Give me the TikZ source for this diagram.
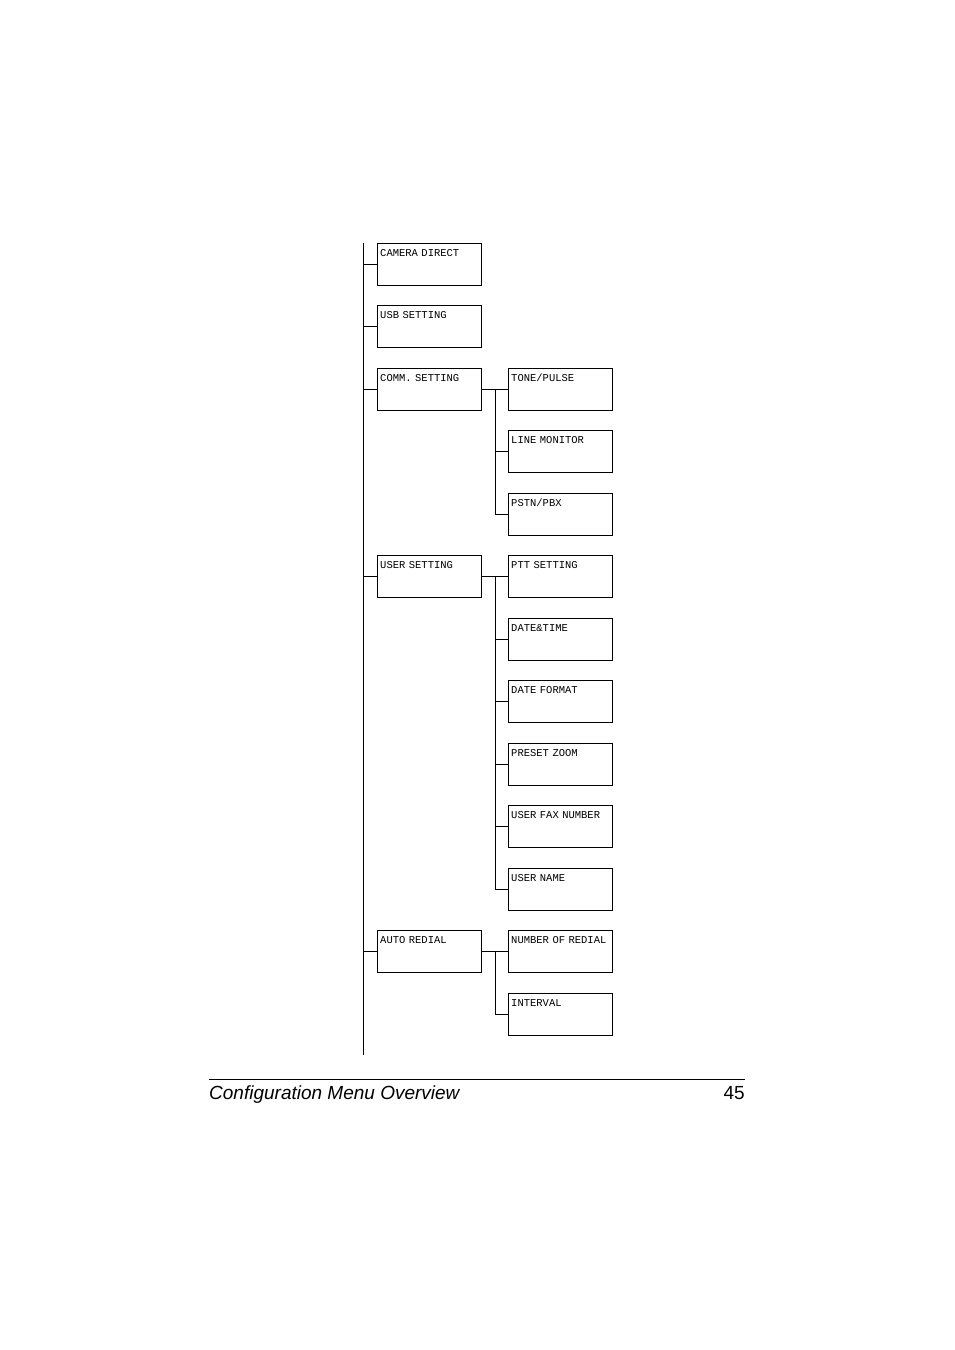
\documentclass[tikz,border=0pt]{standalone}
\usepackage{fontspec}
\setmainfont{Liberation Sans}
\newfontfamily\menufont{Liberation Mono}
\usetikzlibrary{positioning}
\tikzset{
	menubox/.style={draw,anchor=north west,inner xsep=3pt,inner ysep=2pt,
		text width=98pt,align=left,text height=11pt,text depth=27pt,
		font=\menufont\fontsize{10.5}{11}\selectfont},
	tree/.style={line width=0.8pt}
}
\begin{document}
\begin{tikzpicture}[x=1pt,y=-1pt]
\useasboundingbox (0,0) rectangle (954,1350);

% main level
\node[menubox] (cam) at (377,243) {CAMERA DIRECT};
\node[menubox] (usb) at (377,305) {USB SETTING};
\node[menubox] (comm) at (377,368) {COMM. SETTING};
\node[menubox] (user) at (377,555) {USER SETTING};
\node[menubox] (redial) at (377,930) {AUTO REDIAL};

% sub level
\node[menubox] (tone) at (508,368) {TONE/PULSE};
\node[menubox] (mon) at (508,430) {LINE MONITOR};
\node[menubox] (pstn) at (508,493) {PSTN/PBX};
\node[menubox] (ptt) at (508,555) {PTT SETTING};
\node[menubox] (dt) at (508,618) {DATE\&TIME};
\node[menubox] (dfmt) at (508,680) {DATE FORMAT};
\node[menubox] (zoom) at (508,743) {PRESET ZOOM};
\node[menubox] (fax) at (508,805) {USER FAX NUMBER};
\node[menubox] (uname) at (508,868) {USER NAME};
\node[menubox] (num) at (508,930) {NUMBER OF REDIAL};
\node[menubox] (intv) at (508,993) {INTERVAL};

% trunk
\coordinate (top) at (363,243);
\coordinate (bot) at (363,1055);
\draw[tree] (top) -- (bot);
\foreach \n in {cam,usb,comm,user,redial}
	\draw[tree] (\n.west -| top) -- (\n.west);

% branches
\foreach \p/\first/\last/\kids in {comm/tone/pstn/{tone,mon,pstn},
		user/ptt/uname/{ptt,dt,dfmt,zoom,fax,uname},
		redial/num/intv/{num,intv}}{
	\coordinate (\p-b) at ([xshift=14pt]\p.east);
	\draw[tree] (\p.east) -- (\first.west);
	\draw[tree] (\p-b) -- (\p-b |- \last.west);
	\foreach \k in \kids
		\draw[tree] (\p-b |- \k.west) -- (\k.west);
}

% footer
\coordinate (fl) at (209,1079);
\coordinate (fr) at (745,1079);
\draw[line width=0.8pt] (fl) -- (fr);
\node[anchor=base west,inner sep=0pt,font=\itshape\fontsize{19}{19}\selectfont] (ftitle) at (209,1099) {Configuration Menu Overview};
\node[anchor=base east,inner sep=0pt,font=\fontsize{19}{19}\selectfont] (fpage) at (745,1099) {45};
\end{tikzpicture}
\end{document}
